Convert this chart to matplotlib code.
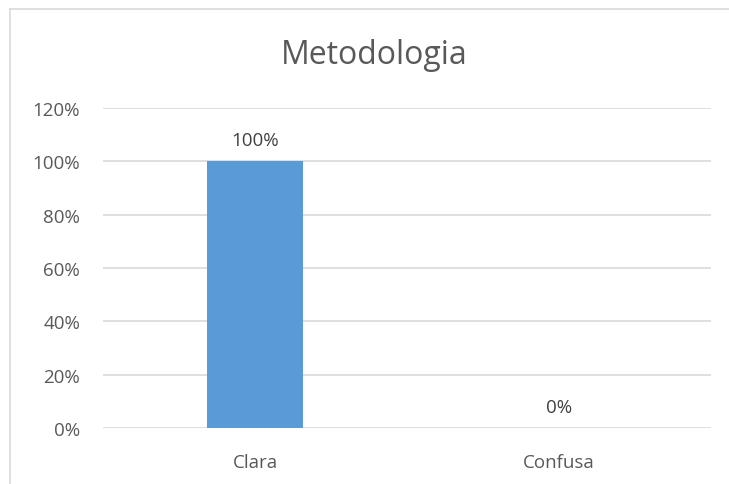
import matplotlib
matplotlib.use("Agg")
import matplotlib.pyplot as plt
from matplotlib.lines import Line2D

categories = ["Clara", "Confusa"]
values = [1.00, 0.00]
labels = ["100%", "0%"]
yticks = [0, 0.2, 0.4, 0.6, 0.8, 1.0, 1.2]
ytick_labels = ["0%", "20%", "40%", "60%", "80%", "100%", "120%"]

plt.rcParams['font.family'] = ['Open Sans', 'DejaVu Sans']
W, H = 729, 485
fig = plt.figure(figsize=(W/100, H/100), dpi=100)
ax = fig.add_axes([103/W, 1-429/H, 608/W, 320/H])

x = range(len(categories))
ax.bar(x, values, width=0.316, color="#5B9BD5", zorder=3)
for xi, v, lab in zip(x, values, labels):
    ax.text(xi, v + 0.045, lab, ha="center", va="bottom", fontsize=13.5, color="#404040")

ax.set_xlim(-0.5, 1.5)
ax.set_ylim(0, 1.2)
ax.set_yticks(yticks)
ax.set_yticklabels(ytick_labels, fontsize=13.5, color="#595959")
ax.set_xticks(list(x))
ax.set_xticklabels(categories, fontsize=13.5, color="#595959")
ax.tick_params(length=0, axis="y", pad=16.5)
ax.tick_params(length=0, axis="x", pad=18)
ax.grid(axis="y", color="#D9D9D9", linewidth=1.2, zorder=0)
for s in ax.spines.values():
    s.set_visible(False)

fig.text(374/W, 1-56/H, "Metodologia", ha="center", va="center", fontsize=23, color="#595959")

# outer chart border (top and left edges visible)
fig.add_artist(Line2D([10/W, 10/W], [0, 1-10/H], transform=fig.transFigure, color="#D9D9D9", linewidth=1.2))
fig.add_artist(Line2D([10/W, 1], [1-10/H, 1-10/H], transform=fig.transFigure, color="#D9D9D9", linewidth=1.2))

fig.savefig("out.png", dpi=100)
